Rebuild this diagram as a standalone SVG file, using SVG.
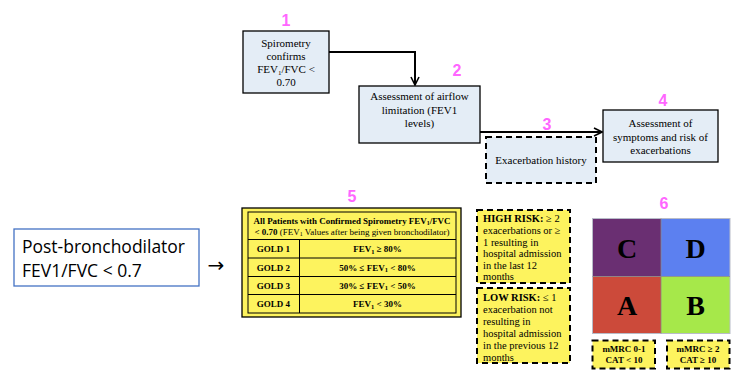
<svg xmlns="http://www.w3.org/2000/svg" width="748" height="386" viewBox="0 0 748 386">
<style>
.bx{fill:#e4edf6;stroke:#000;stroke-width:1.3}
.dsh{stroke:#000;stroke-width:2;stroke-dasharray:6 4}
.yel{fill:#fdf35e}
.t{font-family:"Liberation Serif",serif;font-size:11px;fill:#000;text-anchor:middle}
.num{font-family:"Liberation Sans",sans-serif;font-size:16px;font-weight:bold;fill:#ff66ff;text-anchor:middle}
.tb{font-family:"Liberation Serif",serif;font-size:9px;fill:#000}
.b{font-weight:bold}
.rk{font-family:"Liberation Serif",serif;font-size:10.5px;fill:#000}
.let{font-family:"Liberation Serif",serif;font-size:28px;font-weight:bold;fill:#000;text-anchor:middle}
.conn{fill:none;stroke:#000;stroke-width:2}
</style>
<defs>
<marker id="ah" viewBox="0 0 10 10" refX="9" refY="5" markerWidth="5" markerHeight="5" orient="auto" markerUnits="strokeWidth">
<path d="M1,1 L9,5 L1,9" fill="none" stroke="#000" stroke-width="1.6"/>
</marker>
</defs>
<rect width="748" height="386" fill="#fff"/>

<g id="connectors">
<path class="conn" d="M329,52 H415 V85" marker-end="url(#ah)"/>
<path class="conn" d="M480,132 H602" marker-end="url(#ah)"/>
</g>

<g id="n1">
<text class="num" x="286" y="26">1</text>
<rect class="bx" x="243" y="31" width="86" height="62"/>
<text class="t" x="286" y="47">Spirometry</text>
<text class="t" x="286" y="60">confirms</text>
<text class="t" x="286" y="73">FEV<tspan font-size="7" dy="2">1</tspan><tspan dy="-2">/FVC &lt;</tspan></text>
<text class="t" x="286" y="86">0.70</text>
</g>

<g id="n2">
<text class="num" x="457" y="76">2</text>
<rect class="bx" x="359" y="86" width="121" height="57"/>
<text class="t" x="419.5" y="100">Assessment of airflow</text>
<text class="t" x="419.5" y="113.5">limitation (FEV1</text>
<text class="t" x="419.5" y="127">levels)</text>
</g>

<g id="n3">
<text class="num" x="547" y="130">3</text>
<rect x="486" y="137" width="110" height="46" fill="#e4edf6" class="dsh"/>
<text class="t" x="541" y="164">Exacerbation history</text>
</g>

<g id="n4">
<text class="num" x="663" y="106">4</text>
<rect class="bx" x="603" y="110" width="115" height="52"/>
<text class="t" x="660.5" y="127">Assessment of</text>
<text class="t" x="660.5" y="140.5">symptoms and risk of</text>
<text class="t" x="660.5" y="154">exacerbations</text>
</g>

<g id="post">
<rect x="14" y="229" width="185" height="57" fill="#fff" stroke="#4472c4" stroke-width="1.3"/>
<text x="22" y="253" font-family="'Open Sans','Liberation Sans',sans-serif" font-size="17.5" fill="#000" textLength="163" lengthAdjust="spacingAndGlyphs">Post-bronchodilator</text>
<text x="22" y="277" font-family="'Open Sans','Liberation Sans',sans-serif" font-size="17.5" fill="#000">FEV1/FVC &lt; 0.7</text>
<text x="216" y="272" font-family="'DejaVu Sans',sans-serif" font-size="20" fill="#000" text-anchor="middle">→</text>
</g>

<g id="n5">
<text class="num" x="352" y="202">5</text>
<rect x="242" y="208" width="219" height="109" class="yel" stroke="#000" stroke-width="1.3"/>
<rect x="248" y="212" width="208" height="101" fill="none" stroke="#000" stroke-width="1"/>
<g stroke="#000" stroke-width="1">
<line x1="248" y1="239.5" x2="456" y2="239.5"/>
<line x1="248" y1="258" x2="456" y2="258"/>
<line x1="248" y1="276.5" x2="456" y2="276.5"/>
<line x1="248" y1="294.5" x2="456" y2="294.5"/>
<line x1="299.5" y1="239.5" x2="299.5" y2="313"/>
</g>
<text class="tb b" x="352" y="223.5" text-anchor="middle" textLength="197" lengthAdjust="spacingAndGlyphs">All Patients with Confirmed Spirometry FEV<tspan font-size="6" dy="1">1</tspan><tspan dy="-1">/FVC</tspan></text>
<text class="tb" x="352" y="235" text-anchor="middle" textLength="195" lengthAdjust="spacingAndGlyphs"><tspan class="b">&lt; 0.70</tspan> (FEV<tspan font-size="6" dy="1">1</tspan><tspan dy="-1"> Values after being given bronchodilator)</tspan></text>
<g class="tb b" text-anchor="middle">
<text x="273.5" y="252">GOLD 1</text>
<text x="273.5" y="270.5">GOLD 2</text>
<text x="273.5" y="288.5">GOLD 3</text>
<text x="273.5" y="307">GOLD 4</text>
<text x="377.5" y="252">FEV<tspan font-size="6.5" dy="1.5">1</tspan><tspan dy="-1.5"> ≥ 80%</tspan></text>
<text x="377.5" y="270.5">50% ≤ FEV<tspan font-size="6.5" dy="1.5">1</tspan><tspan dy="-1.5"> &lt; 80%</tspan></text>
<text x="377.5" y="288.5">30% ≤ FEV<tspan font-size="6.5" dy="1.5">1</tspan><tspan dy="-1.5"> &lt; 50%</tspan></text>
<text x="377.5" y="307">FEV<tspan font-size="6.5" dy="1.5">1</tspan><tspan dy="-1.5"> &lt; 30%</tspan></text>
</g>
</g>

<g id="high">
<rect x="477" y="210" width="93" height="73" class="yel dsh"/>
<text class="rk" x="483" y="222"><tspan class="b">HIGH RISK:</tspan> ≥ 2</text>
<text class="rk" x="483" y="234">exacerbations or ≥</text>
<text class="rk" x="483" y="245.5">1 resulting in</text>
<text class="rk" x="483" y="257">hospital admission</text>
<text class="rk" x="483" y="268.5">in the last 12</text>
<text class="rk" x="483" y="280">months</text>
</g>

<g id="low">
<rect x="477" y="288" width="93" height="75" class="yel dsh"/>
<text class="rk" x="483" y="300.5"><tspan class="b">LOW RISK:</tspan> ≤ 1</text>
<text class="rk" x="483" y="313">exacerbation not</text>
<text class="rk" x="483" y="325">resulting in</text>
<text class="rk" x="483" y="337">hospital admission</text>
<text class="rk" x="483" y="349">in the previous 12</text>
<text class="rk" x="483" y="360.5">months</text>
</g>

<g id="n6">
<text class="num" x="664" y="208.5">6</text>
<rect x="592.5" y="218.5" width="68.5" height="58" fill="#6a2f72"/>
<rect x="661" y="218.5" width="69" height="58" fill="#5c80f0"/>
<rect x="592.5" y="276.5" width="68.5" height="57" fill="#cc4a3a"/>
<rect x="661" y="276.5" width="69" height="57" fill="#a6e84a"/>
<rect x="592.5" y="218.5" width="137.5" height="115" fill="none" stroke="#b8bcc8" stroke-width="1"/>
<line x1="592.5" y1="276.5" x2="730" y2="276.5" stroke="#888" stroke-width="0.8"/>
<line x1="661" y1="218.5" x2="661" y2="333.5" stroke="#888" stroke-width="0.8"/>
<text class="let" x="627" y="257.5">C</text>
<text class="let" x="695.5" y="257.5">D</text>
<text class="let" x="627" y="315">A</text>
<text class="let" x="695.5" y="315">B</text>
</g>

<g id="m1">
<rect x="592.5" y="340.5" width="62.5" height="28" class="yel dsh"/>
<text class="tb b" x="624" y="352" text-anchor="middle">mMRC 0-1</text>
<text class="tb b" x="624" y="363" text-anchor="middle">CAT &lt; 10</text>
</g>

<g id="m2">
<rect x="667" y="340.5" width="62.5" height="28" class="yel dsh"/>
<text class="tb b" x="698" y="352" text-anchor="middle">mMRC ≥ 2</text>
<text class="tb b" x="698" y="363" text-anchor="middle">CAT ≥ 10</text>
</g>
</svg>
